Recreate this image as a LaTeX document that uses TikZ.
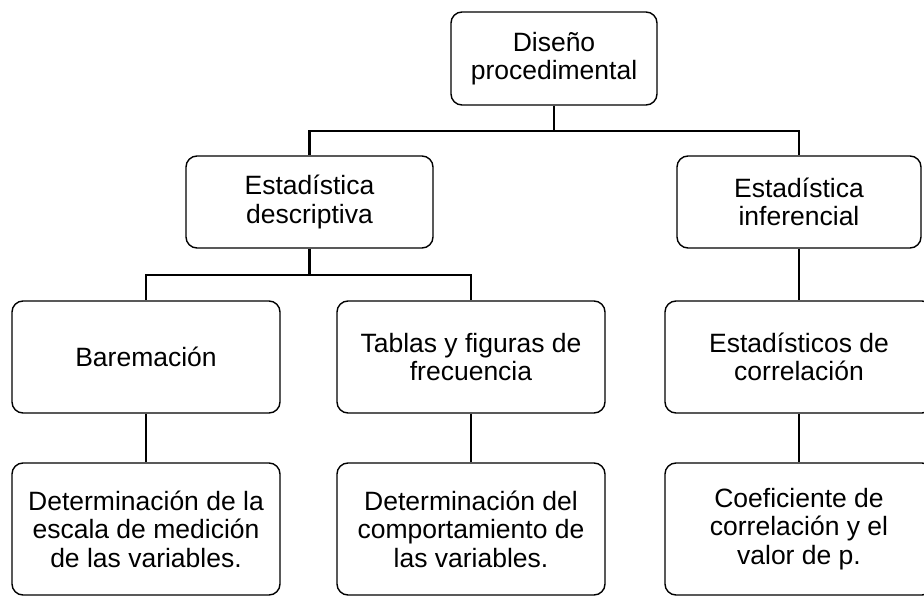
\documentclass[tikz,border=0pt]{standalone}
\usepackage{fontspec}
\setmainfont{Liberation Sans}
\usetikzlibrary{calc}
\begin{document}
\begin{tikzpicture}[x=1pt,y=-1pt,
  box/.style={draw=black,line width=1.4pt,rounded corners=11pt,align=center,
    inner sep=0pt,font=\fontsize{26.5}{28.5}\selectfont},
  conn/.style={draw=black,line width=2.4pt}]
\useasboundingbox (0,0) rectangle (924,597);
\node[box,minimum width=206pt,minimum height=93pt] (top) at (554,58.5) {Diseño\\procedimental};
\node[box,minimum width=247pt,minimum height=92pt] (desc) at (309.5,202) {Estadística\\descriptiva};
\node[box,minimum width=244pt,minimum height=92pt] (inf) at (799,202) {Estadística\\inferencial};
\node[box,minimum width=268pt,minimum height=112pt] (bar) at (146,357) {Baremación};
\node[box,minimum width=268pt,minimum height=112pt] (tab) at (471,357) {Tablas y figuras de\\frecuencia};
\node[box,minimum width=268pt,minimum height=112pt] (est) at (799,357) {Estadísticos de\\correlación};
\node[box,minimum width=268pt,minimum height=132pt] (det1) at (146,529) {Determinación de la\\escala de medición\\de las variables.};
\node[box,minimum width=268pt,minimum height=132pt] (det2) at (471,529) {Determinación del\\comportamiento de\\las variables.};
\node[box,minimum width=268pt,minimum height=132pt] (coef) at (799,529) {Coeficiente de\\correlación y el\\valor de p.};
\coordinate (j1) at (554,131);
\coordinate (j2) at (309.5,275);
\draw[conn] (top.south) -- (j1);
\draw[conn] (j1) -| (desc.north);
\draw[conn] (j1) -| (inf.north);
\draw[conn] (desc.south) -- (j2);
\draw[conn] (j2) -| (bar.north);
\draw[conn] (j2) -| (tab.north);
\draw[conn] (inf.south) -- (est.north);
\draw[conn] (bar.south) -- (det1.north);
\draw[conn] (tab.south) -- (det2.north);
\draw[conn] (est.south) -- (coef.north);
\end{tikzpicture}
\end{document}
